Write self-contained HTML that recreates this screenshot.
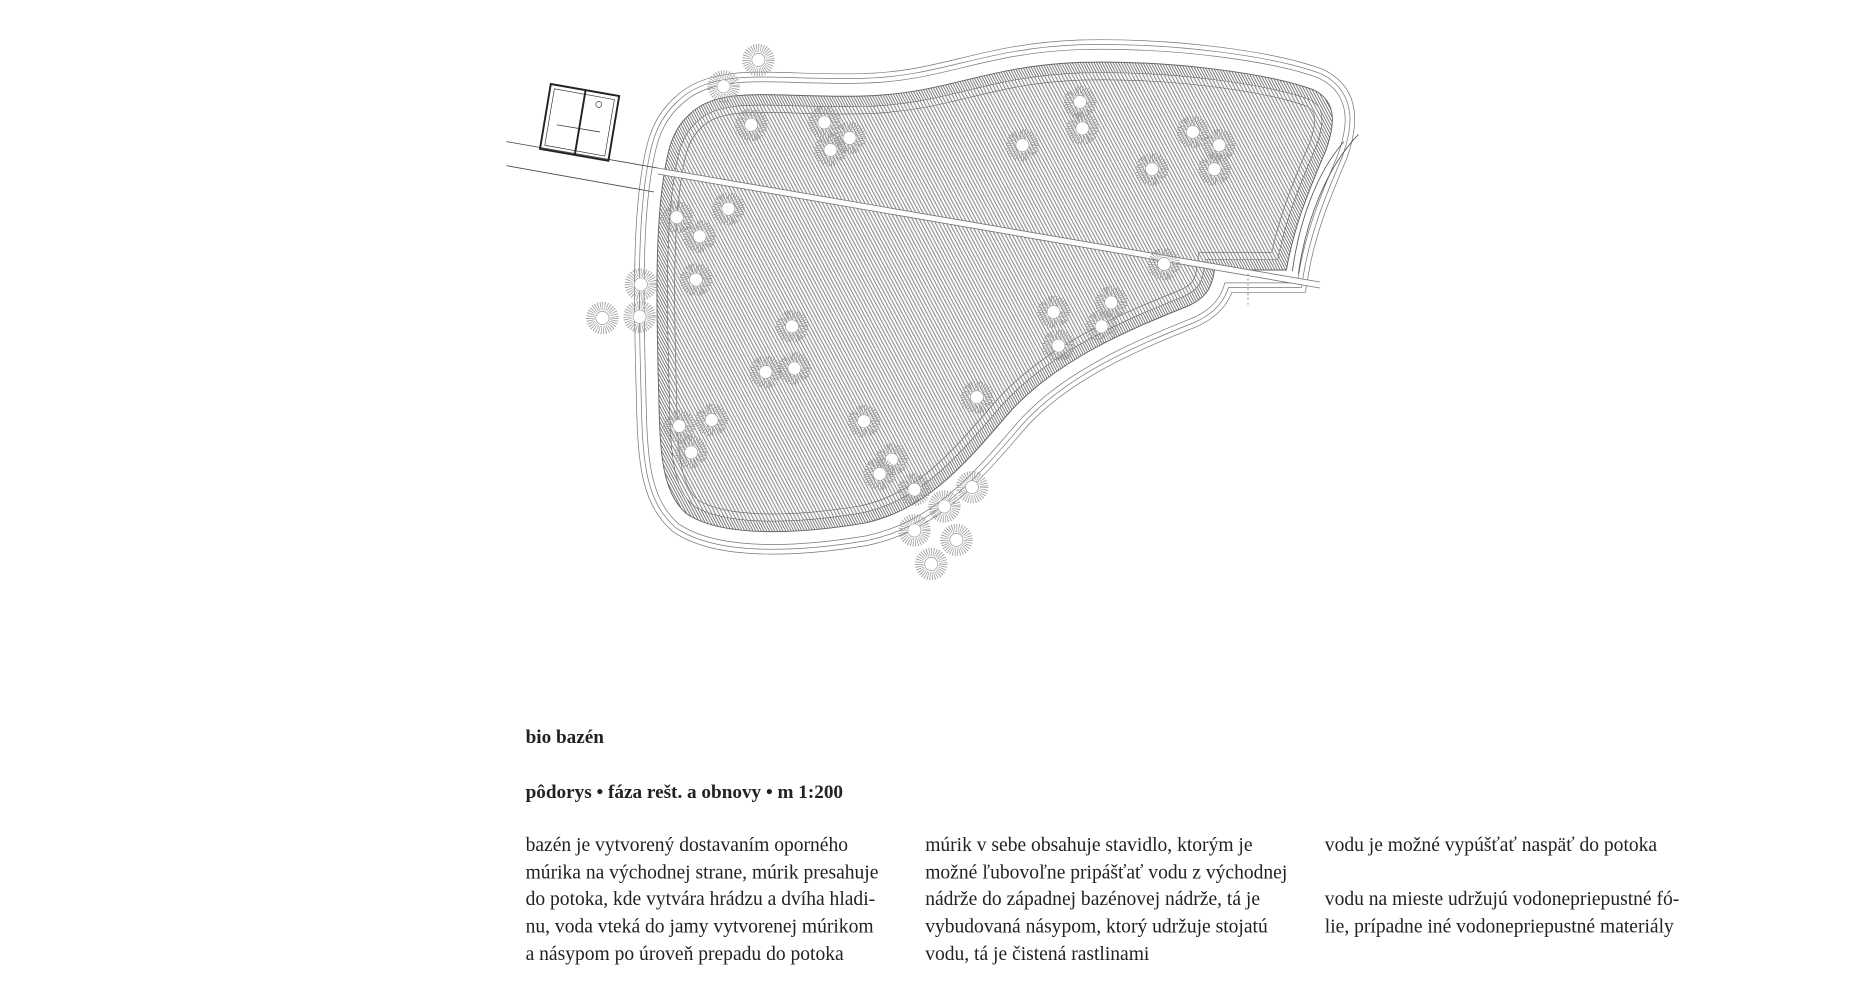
<!DOCTYPE html>
<html><head><meta charset="utf-8"><style>
html,body{margin:0;padding:0;background:#fff;}
svg{display:block}
</style></head><body>
<svg width="1872" height="988" viewBox="0 0 1560 823.33" xmlns="http://www.w3.org/2000/svg">
<defs>
<pattern id="h" width="2.6" height="10" patternUnits="userSpaceOnUse" patternTransform="rotate(-28)">
<rect width="2.6" height="10" fill="#fff"/><rect width="0.9" height="10" fill="#8a8a8a"/>
</pattern>
<pattern id="hd" width="2" height="10" patternUnits="userSpaceOnUse" patternTransform="rotate(-28)">
<rect width="2" height="10" fill="#fff"/><rect width="0.8" height="10" fill="#777"/>
</pattern>
<path id="p" d="M575,95 C600,70 650,82 720,80 C790,78 820,55 900,52 C980,50 1060,62 1095,75 C1115,85 1112,105 1105,125 C1090,160 1078,190 1072,225 L1012,225 C1010,240 1005,248 990,255 C940,275 880,300 840,345 C800,392 770,425 720,436 C660,446 600,447 572,428 C552,410 550,380 549,330 C547,260 546,200 552,155 C556,125 560,108 575,95 Z"/>
<clipPath id="c"><use href="#p"/></clipPath>
<g id="t">
<circle r="10" fill="none" stroke="#999" stroke-width="7" stroke-dasharray="0.6 1.2"/>
<circle r="5.5" fill="#fff" stroke="#999" stroke-width="0.6"/>
</g>
</defs>
<use href="#p" fill="none" stroke="#777" stroke-width="38"/>
<use href="#p" fill="none" stroke="#fff" stroke-width="36.8"/>
<use href="#p" fill="none" stroke="#777" stroke-width="30"/>
<use href="#p" fill="none" stroke="#fff" stroke-width="28.8"/>
<use href="#p" fill="none" stroke="#777" stroke-width="22"/>
<use href="#p" fill="none" stroke="#fff" stroke-width="20.8"/>
<use href="#p" fill="url(#h)" stroke="none"/>
<g clip-path="url(#c)">
<use href="#p" fill="none" stroke="url(#hd)" stroke-width="30"/>
<use href="#p" fill="none" stroke="#666" stroke-width="18"/>
<use href="#p" fill="none" stroke="url(#hd)" stroke-width="17"/>
<use href="#p" fill="none" stroke="#666" stroke-width="10"/>
<use href="#p" fill="none" stroke="url(#hd)" stroke-width="9"/>
<use href="#p" fill="none" stroke="#666" stroke-width="30"/>
<use href="#p" fill="none" stroke="url(#h)" stroke-width="29"/>
<use href="#p" fill="none" stroke="#666" stroke-width="18"/>
<use href="#p" fill="none" stroke="url(#hd)" stroke-width="17"/>
</g>
<use href="#p" fill="none" stroke="#666" stroke-width="0.8"/>
<polygon points="548,140 1100,235 1100,240 548,145" fill="#fff"/>
<line x1="548" y1="140" x2="1100" y2="235" stroke="#777" stroke-width="0.7"/>
<line x1="548" y1="145" x2="1100" y2="240" stroke="#777" stroke-width="0.7"/>
<line x1="422" y1="118" x2="548" y2="140" stroke="#444" stroke-width="0.7"/>
<line x1="422" y1="138" x2="545" y2="160" stroke="#444" stroke-width="0.7"/>
<path d="M1132,112 C1105,140 1088,185 1082,228" fill="none" stroke="#555" stroke-width="0.7"/>
<path d="M1120,118 C1096,145 1082,188 1077,226" fill="none" stroke="#555" stroke-width="0.7"/>
<line x1="1040" y1="228" x2="1040" y2="255" stroke="#777" stroke-width="0.6" stroke-dasharray="2 2"/>
<g stroke="#222" fill="none">
<polygon points="459,70 516,80 507,134 450,124" stroke-width="1.6"/>
<polygon points="462,74 512,83 504,130 454,121" stroke-width="0.5"/>
<line x1="488" y1="75" x2="479" y2="129" stroke-width="1.6"/>
<line x1="464" y1="104" x2="500" y2="110" stroke-width="0.6"/>
<circle cx="499" cy="87" r="2.5" stroke-width="0.5"/>
</g>
<g>
<use href="#t" x="632" y="50"/><use href="#t" x="603" y="72"/><use href="#t" x="626" y="104"/>
<use href="#t" x="687" y="102"/><use href="#t" x="708" y="115"/><use href="#t" x="692" y="125"/>
<use href="#t" x="852" y="121"/><use href="#t" x="900" y="85"/><use href="#t" x="902" y="107"/>
<use href="#t" x="994" y="110"/><use href="#t" x="1016" y="121"/><use href="#t" x="1012" y="141"/>
<use href="#t" x="960" y="141"/><use href="#t" x="607" y="174"/><use href="#t" x="564" y="181"/>
<use href="#t" x="583" y="197"/><use href="#t" x="580" y="233"/><use href="#t" x="534" y="237"/>
<use href="#t" x="533" y="264"/><use href="#t" x="502" y="265"/><use href="#t" x="970" y="220"/>
<use href="#t" x="878" y="260"/><use href="#t" x="926" y="252"/><use href="#t" x="918" y="272"/>
<use href="#t" x="882" y="288"/><use href="#t" x="660" y="272"/><use href="#t" x="638" y="310"/>
<use href="#t" x="662" y="307"/><use href="#t" x="814" y="331"/><use href="#t" x="566" y="355"/>
<use href="#t" x="593" y="350"/><use href="#t" x="576" y="377"/><use href="#t" x="720" y="351"/>
<use href="#t" x="743" y="383"/><use href="#t" x="733" y="395"/><use href="#t" x="762" y="408"/>
<use href="#t" x="810" y="406"/><use href="#t" x="787" y="422"/><use href="#t" x="762" y="442"/>
<use href="#t" x="797" y="450"/><use href="#t" x="776" y="470"/>
</g>
<g font-family="Liberation Serif, serif" fill="#222" font-size="16.3">
<text x="438" y="619" font-weight="bold" font-size="16">bio bazén</text>
<text x="438" y="665" font-weight="bold" font-size="16">pôdorys • fáza rešt. a obnovy • m 1:200</text>
<text x="438" y="709">bazén je vytvorený dostavaním oporného</text>
<text x="438" y="732">múrika na východnej strane, múrik presahuje</text>
<text x="438" y="754">do potoka, kde vytvára hrádzu a dvíha hladi-</text>
<text x="438" y="777">nu, voda vteká do jamy vytvorenej múrikom</text>
<text x="438" y="800">a násypom po úroveň prepadu do potoka</text>
<text x="771" y="709">múrik v sebe obsahuje stavidlo, ktorým je</text>
<text x="771" y="732">možné ľubovoľne pripášťať vodu z východnej</text>
<text x="771" y="754">nádrže do západnej bazénovej nádrže, tá je</text>
<text x="771" y="777">vybudovaná násypom, ktorý udržuje stojatú</text>
<text x="771" y="800">vodu, tá je čistená rastlinami</text>
<text x="1104" y="709">vodu je možné vypúšťať naspäť do potoka</text>
<text x="1104" y="754">vodu na mieste udržujú vodonepriepustné fó-</text>
<text x="1104" y="777">lie, prípadne iné vodonepriepustné materiály</text>
</g>
</svg>
</body></html>
